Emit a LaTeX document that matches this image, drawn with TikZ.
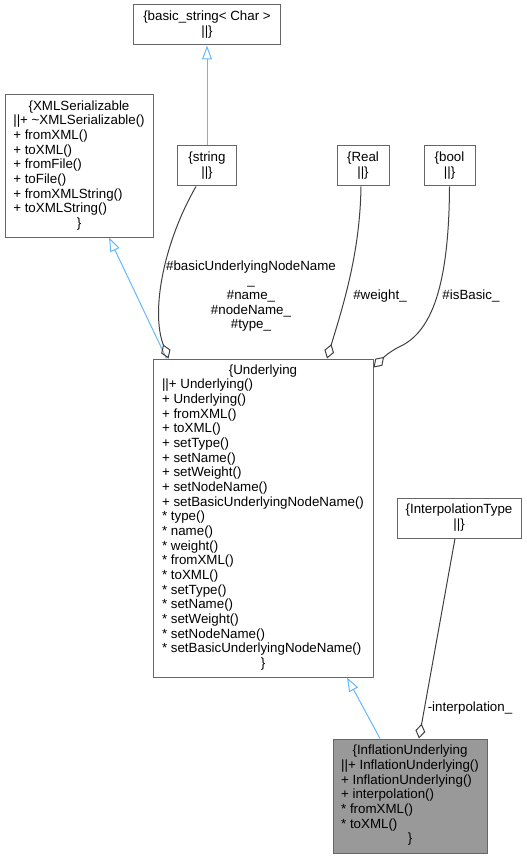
\documentclass[tikz,border=0pt]{standalone}
\usepackage{fontspec}
\setmainfont{Liberation Sans}
\usepackage{xcolor}
\usepackage{tikz}
\usetikzlibrary{arrows.meta, calc}
\definecolor{myedge}{RGB}{64,64,64}
\definecolor{myframe}{RGB}{102,102,102}
\definecolor{myblue}{RGB}{99,184,255}
\definecolor{mygrey}{RGB}{153,153,153}
\newcommand{\ctr}[1]{\multicolumn{1}{@{}c@{}}{#1}}
\tikzset{
  classbox/.style={rectangle, draw=myframe, fill=white, line width=0.75pt,
    inner sep=0pt, font=\fontsize{10}{11}\selectfont},
  curbox/.style={classbox, fill=mygrey},
  elabel/.style={inner sep=0pt, align=center, font=\fontsize{10}{11}\selectfont},
  inherit/.style={-{Triangle[open,length=10.5pt,width=7.5pt]}, draw=myblue, line width=0.75pt},
  usage/.style={-{Diamond[open,length=11.25pt,width=7.5pt]}, draw=myedge, line width=0.75pt}
}

\begin{document}
\begin{tikzpicture}[x=0.75pt, y=-0.75pt]
  \useasboundingbox (0,0) rectangle (527,859);

  % Base classes
  \node[classbox, minimum width=110.25pt, minimum height=30pt] (basicstr) at (207,25)
    {\begin{tabular}{@{}c@{}}\{basic\_string< Char >\\||\}\end{tabular}};
  \node[classbox, minimum width=111pt, minimum height=106.5pt] (xmlser) at (79,166)
    {\begin{tabular}{@{}l@{}}\ctr{\{XMLSerializable}\\||+ \textasciitilde XMLSerializable()\\+ fromXML()\\+ toXML()\\+ fromFile()\\+ toFile()\\+ fromXMLString()\\+ toXMLString()\\\ctr{\}}\end{tabular}};

  % Member types
  \node[classbox, minimum width=44.25pt, minimum height=30pt] (string) at (207,166)
    {\begin{tabular}{@{}c@{}}\{string\\||\}\end{tabular}};
  \node[classbox, minimum width=39pt, minimum height=30pt] (real) at (363,166)
    {\begin{tabular}{@{}c@{}}\{Real\\||\}\end{tabular}};
  \node[classbox, minimum width=38.25pt, minimum height=30pt] (bool) at (449.5,166)
    {\begin{tabular}{@{}c@{}}\{bool\\||\}\end{tabular}};

  % Underlying class
  \node[classbox, minimum width=165pt, minimum height=238.5pt] (underlying) at (263,518)
    {\begin{tabular}{@{}l@{}}\ctr{\{Underlying}\\||+ Underlying()\\+ Underlying()\\+ fromXML()\\+ toXML()\\+ setType()\\+ setName()\\+ setWeight()\\+ setNodeName()\\+ setBasicUnderlyingNodeName()\\{}* type()\\{}* name()\\{}* weight()\\{}* fromXML()\\{}* toXML()\\{}* setType()\\{}* setName()\\{}* setWeight()\\{}* setNodeName()\\{}* setBasicUnderlyingNodeName()\\\ctr{\}}\end{tabular}};

  \node[classbox, minimum width=93pt, minimum height=30pt] (interp) at (459,518)
    {\begin{tabular}{@{}c@{}}\{InterpolationType\\||\}\end{tabular}};

  % Documented class
  \node[curbox, minimum width=115.5pt, minimum height=85.5pt] (inflation) at (410,796)
    {\begin{tabular}{@{}l@{}}\ctr{\{InflationUnderlying}\\||+ InflationUnderlying()\\+ InflationUnderlying()\\+ interpolation()\\{}* fromXML()\\{}* toXML()\\\ctr{\}}\end{tabular}};

  % Inheritance arrows
  \draw[inherit] (string) -- (basicstr);
  \draw[inherit] ($(underlying.north west)+(14,0)$) -- ($(xmlser.south)+(30,0)$);
  \draw[inherit] ($(inflation.north)+(-30,0)$) -- ($(underlying.south)+(84,0)$);

  % Member arrows
  \draw[usage] ($(string.south)+(-11,0)$) .. controls (165,240) and (150,310) .. ($(underlying.north west)+(16,0)$);
  \draw[usage] ($(real.south)+(-2,0)$) .. controls (360,250) and (345,300) .. ($(underlying.north)+(64,0)$);
  \draw[usage] (bool.south) .. controls (449,290) and (430,330) .. (403,345)
    .. controls (392,350) and (385,356) .. ($(underlying.north east)+(0,9)$);
  \draw[usage] ($(interp.south)+(-4,0)$) -- ($(inflation.north)+(9,0)$);

  % Member labels
  \node[elabel] (lblstr) at (251,296) {\#basicUnderlyingNodeName\\\_\\\#name\_\\\#nodeName\_\\\#type\_};
  \node[elabel] (lblreal) at (380,296) {\#weight\_};
  \node[elabel] (lblbool) at (471,296) {\#isBasic\_};
  \node[elabel] (lblinterp) at (470,708) {-interpolation\_};
\end{tikzpicture}
\end{document}
